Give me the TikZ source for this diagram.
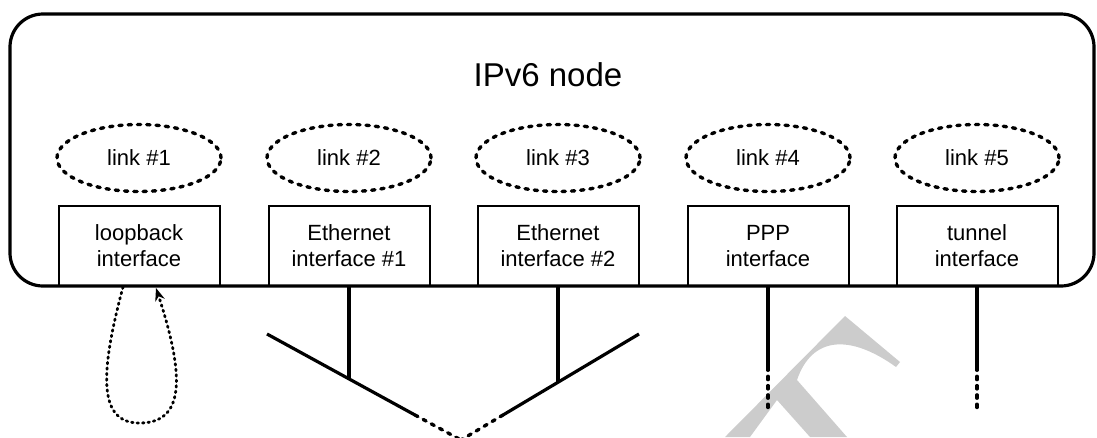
\documentclass[tikz,border=0pt]{standalone}
\usepackage{fontspec}
\setmainfont{Liberation Sans}
\usetikzlibrary{arrows.meta,shapes.geometric}
\begin{document}
\begin{tikzpicture}[x=1pt,y=-1pt,
  frame/.style={draw, line width=3.2pt, rounded corners=33pt, minimum width=1084pt,
    minimum height=272pt, inner sep=0pt},
  title/.style={font=\fontsize{33}{40}\selectfont, inner sep=0pt},
  ifbox/.style={draw, line width=2pt, minimum width=161pt, minimum height=80pt,
    align=center, inner sep=0pt, font=\fontsize{22}{26}\selectfont},
  linkell/.style={ellipse, draw, line width=3.4pt, line cap=round,
    dash pattern=on 3.3pt off 6pt, minimum width=164pt, minimum height=67pt,
    inner sep=0pt, font=\fontsize{22}{26}\selectfont},
  wire/.style={line width=3.2pt},
  dotwire/.style={line width=3.4pt, line cap=round, dash pattern=on 3.3pt off 6pt},
  loopwire/.style={line width=2.8pt, line cap=round, dash pattern=on 1.5pt off 4pt,
    -{Stealth[length=13pt,width=10pt,line width=0pt]}},
  watermark/.style={fill=gray!40}
]
\useasboundingbox (0,0) rectangle (1097,437);

% faint watermark stroke in the lower right
\fill[watermark] (845,316) -- (900,362) -- (896,367)
  .. controls (850,334) and (812,336) .. (797,380) -- (847,437) -- (810,437)
  -- (777,400) -- (750,437) -- (725,437) -- cycle;

% the node itself
\node[frame] (node) at (552,150) {};
\node[title] (nodetitle) at (548,75) {IPv6 node};

% links
\node[linkell] (l1) at (139,158) {link \#1};
\node[linkell] (l2) at (349,158) {link \#2};
\node[linkell] (l3) at (558,158) {link \#3};
\node[linkell] (l4) at (768,158) {link \#4};
\node[linkell] (l5) at (977,158) {link \#5};

% interfaces
\node[ifbox] (lo)   at (139,246) {loopback\\interface};
\node[ifbox] (eth1) at (349,246) {Ethernet\\interface \#1};
\node[ifbox] (eth2) at (558,246) {Ethernet\\interface \#2};
\node[ifbox] (ppp)  at (768,246) {PPP\\interface};
\node[ifbox] (tun)  at (977,246) {tunnel\\interface};

% loopback path
\coordinate (lbout) at (123,287);
\coordinate (lbin)  at (156,288);
\draw[loopwire] (lbout) .. controls (98,380) and (100,424) .. (141,423)
  .. controls (183,422) and (186,380) .. (lbin);

% shared Ethernet segment
\coordinate (vl)  at (267,334);
\coordinate (vlm) at (415,415);
\coordinate (va)  at (461,440);
\coordinate (vrm) at (503,415);
\coordinate (vr)  at (639,334);
\coordinate (j1)  at (349,379);
\coordinate (j2)  at (558,382);
\draw[wire] (vl) -- (vlm);
\draw[wire] (vr) -- (vrm);
\draw[dotwire] (vlm) -- (va);
\draw[dotwire] (vrm) -- (va);
\draw[wire] (eth1.south) -- (j1);
\draw[wire] (eth2.south) -- (j2);

% point-to-point and tunnel links
\coordinate (p1) at (768,367);
\coordinate (p2) at (768,412);
\coordinate (t1) at (977,367);
\coordinate (t2) at (977,412);
\draw[wire] (ppp.south) -- (p1);
\draw[dotwire] (p1) -- (p2);
\draw[wire] (tun.south) -- (t1);
\draw[dotwire] (t1) -- (t2);
\end{tikzpicture}
\end{document}
